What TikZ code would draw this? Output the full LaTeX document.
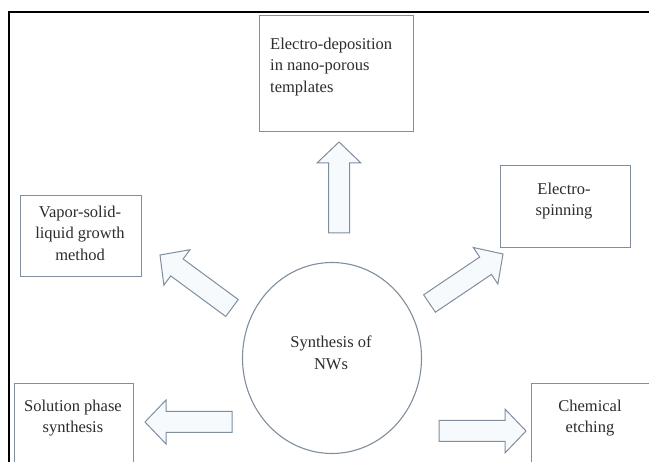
\documentclass[tikz,border=0pt]{standalone}
\usepackage{fontspec}
\setmainfont{Liberation Serif}
\usetikzlibrary{calc,shapes.geometric}
\definecolor{edgec}{RGB}{128,142,158}
\definecolor{arrfill}{RGB}{246,250,253}
\definecolor{txtc}{RGB}{45,45,45}
\tikzset{
  boxstyle/.style={draw=edgec, line width=1.1pt, inner sep=0pt, anchor=north west},
  txt/.style={font=\fontsize{16.5}{21.5}\selectfont, text=txtc, inner sep=0pt},
  blockarr/.style={draw=edgec, line width=1pt, fill=arrfill, line join=miter},
}
\newcommand\blockarrow[2]{%
  \coordinate (#1-hb) at ($(#2)!21pt!(#1)$);
  \draw[blockarr] ($(#1)!10.5pt!90:(#2)$) -- ($(#1-hb)!10.5pt!90:(#2)$)
    -- ($(#1-hb)!22pt!90:(#2)$) -- (#2) -- ($(#1-hb)!22pt!-90:(#2)$)
    -- ($(#1-hb)!10.5pt!-90:(#2)$) -- ($(#1)!10.5pt!-90:(#2)$) -- cycle;
}
\begin{document}
\begin{tikzpicture}[x=1pt,y=-1pt]
\useasboundingbox (0,0) rectangle (649,462);
\clip (0,0) rectangle (649,462);
\fill[white] (0,0) rectangle (649,462);
% frame
\draw[line width=1.6pt, black] (9,470) -- (9,12) -- (660,12);

% boxes
\node[boxstyle, minimum width=154pt, minimum height=116pt] (ed) at (259,15) {};
\node[txt, anchor=west, align=left] (edt) at (270,67) {Electro-deposition\\in nano-porous\\templates};

\node[boxstyle, minimum width=121pt, minimum height=81pt] (vls) at (20,195) {};
\node[txt, align=center] (vlst) at (80,233) {Vapor-solid-\\liquid growth\\method};

\node[boxstyle, minimum width=130pt, minimum height=82pt] (es) at (500,165) {};
\node[txt, align=center] (est) at (564,201) {Electro-\\spinning};

\node[boxstyle, minimum width=119pt, minimum height=110pt] (sps) at (14,383) {};
\node[txt, align=center] (spst) at (73,418) {Solution phase\\synthesis};

\node[boxstyle, minimum width=140pt, minimum height=110pt] (ce) at (531,383) {};
\node[txt, align=center] (cet) at (590,418) {Chemical\\etching};

% centre
\node[draw=edgec, line width=1.1pt, ellipse, minimum width=179pt, minimum height=191pt, inner sep=0pt] (c) at (332,358) {};
\node[txt, align=center] (ct) at (331,353) {Synthesis of\\NWs};

% block arrows
\coordinate (a1) at (339,233); \coordinate (b1) at (339,142);
\coordinate (a2) at (232,308); \coordinate (b2) at (160,255);
\coordinate (a3) at (429.5,303.5); \coordinate (b3) at (503,254);
\coordinate (a4) at (232,422); \coordinate (b4) at (145,422);
\coordinate (a5) at (439,431); \coordinate (b5) at (526,431);
\blockarrow{a1}{b1}
\blockarrow{a2}{b2}
\blockarrow{a3}{b3}
\blockarrow{a4}{b4}
\blockarrow{a5}{b5}
\end{tikzpicture}
\end{document}
